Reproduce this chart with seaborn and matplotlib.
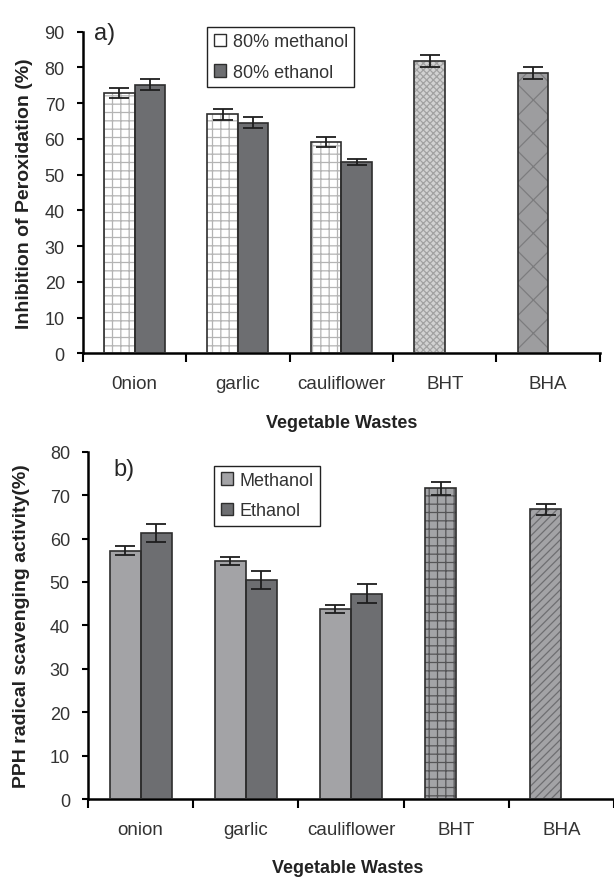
import numpy as np
import pandas as pd
import matplotlib
matplotlib.use('Agg')
import matplotlib.pyplot as plt
import seaborn as sns
from matplotlib.patches import Rectangle, Patch
from matplotlib.container import BarContainer

# a) inhibition of peroxidation
cats_a = ['0nion', 'garlic', 'cauliflower', 'BHT', 'BHA']
meth_a = [72.8, 66.9, 59.1]
eth_a = [75.2, 64.5, 53.6]
meth_a_err = [1.5, 1.5, 1.3]
eth_a_err = [1.6, 1.5, 0.9]
std_a = [81.9, 78.4]
std_a_err = [1.7, 1.6]
solv_a = ['80% methanol', '80% ethanol']

# b) PPH radical scavenging activity
cats_b = ['onion', 'garlic', 'cauliflower', 'BHT', 'BHA']
meth_b = [57.2, 54.8, 43.8]
eth_b = [61.2, 50.5, 47.3]
meth_b_err = [1.0, 0.9, 0.85]
eth_b_err = [2.1, 2.1, 2.15]
std_b = [71.6, 66.7]
std_b_err = [1.5, 1.35]
solv_b = ['Methanol', 'Ethanol']


def make_df(cats, meth, eth, std, solv):
    rows = []
    for i in range(3):
        rows.append((cats[i], solv[0], meth[i]))
        rows.append((cats[i], solv[1], eth[i]))
    # standards have no ethanol extract, they sit in the first slot
    for j in range(2):
        rows.append((cats[3 + j], solv[0], std[j]))
    return pd.DataFrame(rows, columns=['cat', 'solvent', 'val'])


sns.set_style('ticks')
plt.rcParams['font.family'] = ['Liberation Sans', 'DejaVu Sans']
plt.rcParams['hatch.linewidth'] = 0.9

EDGE = '#2e2e2e'
DARK = '#6d6e71'


def draw_panel(ax, cats, meth, eth, std, merr, eerr, serr, solv, styles, ymax, ylabel, tag):
    df = make_df(cats, meth, eth, std, solv)
    sns.barplot(data=df, x='cat', y='val', hue='solvent', order=cats, hue_order=solv,
                width=0.59, gap=0, errorbar=None, palette=['#aaaaaa', DARK],
                legend=False, ax=ax)
    errs = [list(merr) + list(serr), list(eerr)]
    bars = [c for c in ax.containers if isinstance(c, BarContainer)]
    for k, cont in enumerate(bars):
        for p, e, st in zip(cont.patches, errs[k], styles[k]):
            face, hatch, hcol = st
            p.set_facecolor(face)
            p.set_linewidth(0)
            if hatch:
                p.set_hatch(hatch)
                p.set_edgecolor(hcol)
            x0, w, h = p.get_x(), p.get_width(), p.get_height()
            ax.add_patch(Rectangle((x0, 0), w, h, fill=False, edgecolor=EDGE, lw=1.2, zorder=3))
            ax.errorbar(x0 + w / 2, h, yerr=e, color='#1e1e1e', lw=1.3, capsize=7,
                        capthick=1.3, zorder=4)
    ax.set_xlim(-0.5, 4.5)
    ax.set_ylim(0, ymax)
    ax.set_yticks(np.arange(0, ymax + 1, 10))
    ax.set_xticks(np.arange(-0.5, 5, 1))
    ax.set_xticklabels([])
    ax.set_xticks(range(5), minor=True)
    ax.set_xticklabels(cats, minor=True, fontsize=13.5, color='#333333')
    ax.tick_params(axis='x', which='minor', length=0, pad=16)
    ax.tick_params(axis='x', which='major', length=6.5, width=1.5, direction='out', color='black')
    ax.tick_params(axis='y', length=4, width=1.5, pad=9, labelsize=13, labelcolor='#333333', color='black')
    sns.despine(ax=ax)
    for s in ['left', 'bottom']:
        ax.spines[s].set_linewidth(1.8)
        ax.spines[s].set_color('black')
    ax.set_xlabel('Vegetable Wastes', fontsize=13, fontweight='bold', color='#222222')
    ax.set_ylabel(ylabel, fontsize=14, fontweight='bold', color='#222222')
    ax.text(*tag[1], tag[0], transform=ax.transAxes, fontsize=17, ha='left', va='center')


fig = plt.figure(figsize=(6.14, 8.78), dpi=100)
ax1 = fig.add_axes([0.135, 0.5965, 0.842, 0.3663])
ax2 = fig.add_axes([0.1433, 0.0888, 0.8567, 0.3956])

styles_a = [
    [('white', '++', '#b4b4b4'), ('white', '++', '#b4b4b4'), ('white', '++', '#b4b4b4'),
     ('#d2d2d2', 'xxxxx', '#a2a2a2'), ('#9d9d9f', 'x', '#7c7c7e')],
    [(DARK, None, None)] * 3,
]
styles_b = [
    [('#a3a3a6', None, None)] * 3 + [('#a3a4a7', '++', '#555557'), ('#a3a3a6', '////', '#6e6e71')],
    [(DARK, None, None)] * 3,
]

draw_panel(ax1, cats_a, meth_a, eth_a, std_a, meth_a_err, eth_a_err, std_a_err, solv_a,
           styles_a, 90, 'Inhibition of Peroxidation (%)', ('a)', (0.021, 0.995)))
draw_panel(ax2, cats_b, meth_b, eth_b, std_b, meth_b_err, eth_b_err, std_b_err, solv_b,
           styles_b, 80, 'PPH radical scavenging activity(%)', ('b)', (0.048, 0.95)))

ax1.yaxis.set_label_coords(-0.097, 0.5)
ax2.yaxis.set_label_coords(-0.111, 0.5)
ax1.xaxis.set_label_coords(0.5, -0.19)
ax2.xaxis.set_label_coords(0.494, -0.174)

leg_kw = dict(loc='upper left', frameon=True, fancybox=False, framealpha=1, edgecolor='#222222',
              borderaxespad=0, fontsize=13, handlelength=0.7, handleheight=0.7,
              handletextpad=0.35, labelspacing=0.75, borderpad=0.35)
h_a = [Patch(facecolor='white', edgecolor=EDGE, lw=1), Patch(facecolor=DARK, edgecolor=EDGE, lw=1)]
la = ax1.legend(h_a, solv_a, bbox_to_anchor=(0.241, 1.014), **leg_kw)
h_b = [Patch(facecolor='#a3a3a6', edgecolor=EDGE, lw=1), Patch(facecolor=DARK, edgecolor=EDGE, lw=1)]
lb = ax2.legend(h_b, solv_b, bbox_to_anchor=(0.24, 0.96), **leg_kw)
for lg in (la, lb):
    lg.get_frame().set_linewidth(1.0)
    for t in lg.get_texts():
        t.set_color('#333333')

fig.savefig('out.png', dpi=100)
